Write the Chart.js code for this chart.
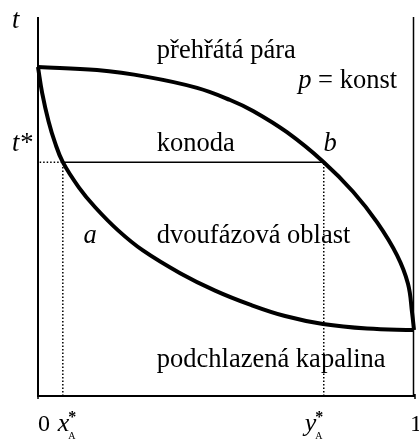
<!DOCTYPE html>
<html>
<head>
<meta charset="utf-8">
<script src="https://cdn.jsdelivr.net/npm/chart.js@4.4.0/dist/chart.umd.min.js"></script>
<style>
  html, body { margin: 0; padding: 0; background: #fff; }
</style>
</head>
<body>
<canvas id="chart" width="419" height="439"></canvas>
<script>
// rosna krivka (para) - slozeni y_A a teplota t
const dewX = [0, 0.157, 0.29, 0.423, 0.511, 0.572, 0.662, 0.76, 0.838, 0.902, 0.955, 0.984, 0.995, 1];
const dewT = [86.8, 86.0, 84.2, 81.3, 78.1, 75.2, 69.6, 61.7, 53.9, 45.8, 37.1, 29.6, 21.9, 17.4];
// varna krivka (kapalina) - slozeni x_A a teplota t
const bubbleX = [0, 0.011, 0.028, 0.045, 0.066, 0.109, 0.152, 0.213, 0.279, 0.378, 0.471, 0.564, 0.657, 0.758, 0.875, 1];
const bubbleT = [86.8, 80.0, 72.5, 66.9, 61.7, 55.0, 49.8, 43.7, 38.4, 32.4, 27.8, 24.1, 21.1, 19.0, 17.8, 17.4];
// konoda pri teplote t*
const tStar = 61.7;
const xStar = 0.066;
const yStar = 0.76;

const regionLabels = ["přehřátá pára", "konoda", "dvoufázová oblast", "podchlazená kapalina"];
const pressureLabel = ["p", " = konst"];
const pointLabels = ["a", "b"];
const axisLabels = ["t", "t*", "0", "1"];

const toPoints = (xs, ts) => xs.map((v, i) => ({ x: v, y: ts[i] }));

const serif = '"Liberation Serif", "Times New Roman", serif';

/**
 * Osy, popisky oblasti a oznaceni bodu.
 */
const popisky = {
  id: "popisky",
  beforeDatasetsDraw(chart) {
    const { ctx, chartArea: a } = chart;
    ctx.save();
    ctx.strokeStyle = "#000";
    ctx.lineWidth = 2;
    ctx.beginPath();
    ctx.moveTo(a.left, a.top);
    ctx.lineTo(a.left, a.bottom);
    ctx.lineTo(a.right + 1, a.bottom);
    ctx.stroke();
    ctx.lineWidth = 1.5;
    ctx.beginPath();
    ctx.moveTo(a.right - 0.5, a.top);
    ctx.lineTo(a.right - 0.5, a.bottom);
    // male znacky na koncich vodorovne osy
    ctx.moveTo(a.left, a.bottom - 2);
    ctx.lineTo(a.left, a.bottom + 3);
    ctx.moveTo(a.right + 1, a.bottom - 2);
    ctx.lineTo(a.right + 1, a.bottom + 3);
    ctx.stroke();
    ctx.restore();
  },
  afterDatasetsDraw(chart) {
    const { ctx, chartArea: a, scales } = chart;
    const px = (v) => scales.x.getPixelForValue(v);
    const py = (v) => scales.y.getPixelForValue(v);
    const reg = "26.5px " + serif;
    const it = "italic 26.5px " + serif;
    const put = (s, x, y, font) => {
      ctx.font = font;
      ctx.fillText(s, x, y);
      return x + ctx.measureText(s).width;
    };
    ctx.save();
    ctx.fillStyle = "#000";
    ctx.textBaseline = "alphabetic";
    ctx.textAlign = "left";

    put(regionLabels[0], px(0.316), py(89.2), reg);
    put(regionLabels[1], px(0.316), py(64.6), reg);
    put(regionLabels[2], px(0.316), py(40.3), reg);
    put(regionLabels[3], px(0.316), py(7.6), reg);

    let e = put(pressureLabel[0], px(0.692), py(81.3), it);
    put(pressureLabel[1], e, py(81.3), reg);

    put(pointLabels[0], px(0.121), py(40.3), it);
    put(pointLabels[1], px(0.759), py(64.6), it);

    // svisla osa
    put(axisLabels[0], 12, a.top + 11, it);
    e = put(axisLabels[1].charAt(0), 12, py(64.6), it);
    put(axisLabels[1].charAt(1), e + 1, py(64.6), reg);

    // vodorovna osa
    const base = a.bottom + 35;
    const small = "24px " + serif;
    put(axisLabels[2], a.left, base, small);
    const star = (s, x) => {
      e = put(s, x, base, "italic 26px " + serif);
      put("*", e - 1, base - 9, "bold 16px " + serif);
      put("A", e - 1, base + 8, "10px " + serif);
    };
    star("x", px(xStar) - 5);
    star("y", px(yStar) - 19);
    put(axisLabels[3], a.right - 4, base, small);
    ctx.restore();
  },
};

let chart;
const graphData = () => {
  const ctx = document.getElementById("chart").getContext("2d");
  if (chart) chart.destroy();

  const pomocna = (data) => ({
    data: data,
    borderColor: "#000",
    borderWidth: 1.5,
    borderDash: [1.5, 2],
    pointRadius: 0,
    tension: 0,
    fill: false,
  });
  const krivka = (data) => ({
    data: data,
    borderColor: "#000",
    borderWidth: 4,
    pointRadius: 0,
    tension: 0.4,
    fill: false,
    clip: 6,
  });

  chart = new Chart(ctx, {
    type: "line",
    data: {
      datasets: [
        // teckovane pomocne cary k t*, x*_A a y*_A
        pomocna([{ x: xStar, y: 0 }, { x: xStar, y: tStar }, { x: 0, y: tStar }]),
        pomocna([{ x: yStar, y: 0 }, { x: yStar, y: tStar }]),
        {
          // konoda
          data: [{ x: xStar, y: tStar }, { x: yStar, y: tStar }],
          borderColor: "#000",
          borderWidth: 1.5,
          pointRadius: 0,
          tension: 0,
          fill: false,
        },
        krivka(toPoints(dewX, dewT)),
        krivka(toPoints(bubbleX, bubbleT)),
      ],
    },
    options: {
      responsive: false,
      animation: false,
      events: [],
      layout: { padding: { left: 38, right: 5, top: 17, bottom: 43 } },
      plugins: { legend: { display: false }, tooltip: { enabled: false } },
      scales: {
        x: { type: "linear", min: 0, max: 1, display: false },
        y: { type: "linear", min: 0, max: 100, display: false },
      },
    },
    plugins: [popisky],
  });
};

graphData();
</script>
</body>
</html>
